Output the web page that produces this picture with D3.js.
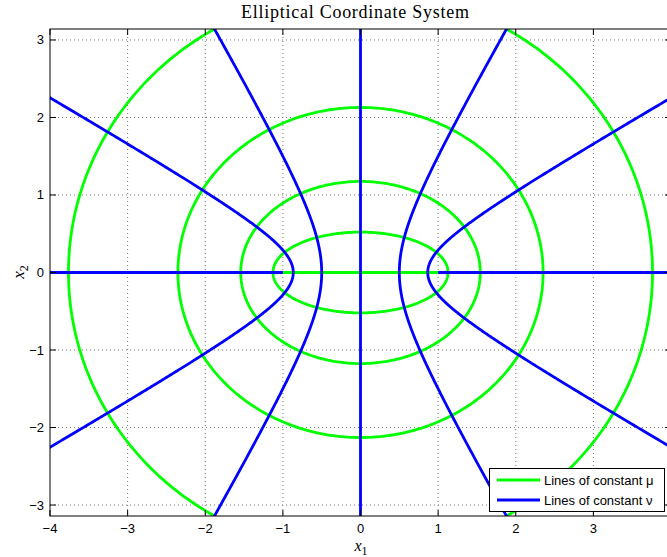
<!DOCTYPE html>
<html><head><meta charset="utf-8">
<script src="https://cdn.jsdelivr.net/npm/d3@7/dist/d3.min.js"></script>
<style>body{margin:0;background:#fff}svg{display:block}</style>
</head><body>
<script>
// Data: parameter values of the coordinate lines
const focalA = 1;
const muValues = [0, 0.5, 1, 1.5, 2];                       // lines of constant mu (ellipses)
const nuValues = [0, 0.5236, 1.0472, 1.5708, 2.0944, 2.618,
                  3.1416, 3.6652, 4.1888, 4.7124, 5.236, 5.7596]; // lines of constant nu (hyperbolas)
const xTicks = [-4, -3, -2, -1, 0, 1, 2, 3];
const yTicks = [-3, -2, -1, 0, 1, 2, 3];
const xDomain = [-4, 4];
const yDomain = [-3.1416, 3.1416];
const legendLabels = ["Lines of constant \u03bc", "Lines of constant \u03bd"];

const W = 667, H = 557;
const L = 50, R = 671, T = 29, B = 516;
const svg = d3.select("body").append("svg").attr("width", W).attr("height", H);
const x = d3.scaleLinear().domain(xDomain).range([L, R]);
const y = d3.scaleLinear().domain(yDomain).range([B, T]);

// grid
const g = svg.append("g");
g.selectAll(".gx").data(xTicks.filter(d => d > xDomain[0])).enter().append("line")
  .attr("x1", d => x(d)).attr("x2", d => x(d)).attr("y1", T).attr("y2", B)
  .attr("stroke", "#777").attr("stroke-width", 1).attr("stroke-dasharray", "1,3");
g.selectAll(".gy").data(yTicks).enter().append("line")
  .attr("y1", d => y(d)).attr("y2", d => y(d)).attr("x1", L).attr("x2", R)
  .attr("stroke", "#777").attr("stroke-width", 1).attr("stroke-dasharray", "1,3");

svg.append("clipPath").attr("id", "clip").append("rect")
  .attr("x", L).attr("y", T).attr("width", R - L).attr("height", B - T);
const plot = svg.append("g").attr("clip-path", "url(#clip)");
const line = d3.line().x(d => x(d[0])).y(d => y(d[1]));

// ellipses
muValues.forEach(mu => {
  const pts = d3.range(0, 361).map(i => {
    const nu = i / 360 * 2 * Math.PI;
    return [focalA * Math.cosh(mu) * Math.cos(nu), focalA * Math.sinh(mu) * Math.sin(nu)];
  });
  plot.append("path").attr("d", line(pts)).attr("fill", "none")
    .attr("stroke", "#00ff00").attr("stroke-width", 2.8);
});
// hyperbolas
nuValues.forEach(nu => {
  const pts = d3.range(0, 401).map(i => {
    const mu = i / 400 * 3;
    return [focalA * Math.cosh(mu) * Math.cos(nu), focalA * Math.sinh(mu) * Math.sin(nu)];
  });
  plot.append("path").attr("d", line(pts)).attr("fill", "none")
    .attr("stroke", "#0000ff").attr("stroke-width", 2.8);
});

// axes box
svg.append("rect").attr("x", L).attr("y", T).attr("width", R - L).attr("height", B - T)
  .attr("fill", "none").attr("stroke", "#000").attr("stroke-width", 1);

const tl = 6;
xTicks.forEach(d => {
  svg.append("line").attr("x1", x(d)).attr("x2", x(d)).attr("y1", B).attr("y2", B - tl).attr("stroke", "#000");
  svg.append("line").attr("x1", x(d)).attr("x2", x(d)).attr("y1", T).attr("y2", T + tl).attr("stroke", "#000");
  svg.append("text").attr("x", x(d)).attr("y", B + 17).attr("text-anchor", "middle")
    .attr("font-family", "Liberation Sans, Arial, sans-serif").attr("font-size", 13)
    .text(d < 0 ? "\u2212" + Math.abs(d) : d);
});
yTicks.forEach(d => {
  svg.append("line").attr("x1", L).attr("x2", L + tl).attr("y1", y(d)).attr("y2", y(d)).attr("stroke", "#000");
  svg.append("line").attr("x1", R).attr("x2", R - tl).attr("y1", y(d)).attr("y2", y(d)).attr("stroke", "#000");
  svg.append("text").attr("x", L - 6).attr("y", y(d) + 4.5).attr("text-anchor", "end")
    .attr("font-family", "Liberation Sans, Arial, sans-serif").attr("font-size", 13)
    .text(d < 0 ? "\u2212" + Math.abs(d) : d);
});

// title and labels
svg.append("text").attr("x", 355).attr("y", 18).attr("text-anchor", "middle")
  .attr("font-family", "Liberation Serif, Times New Roman, serif").attr("font-size", 18)
  .attr("textLength", 228).attr("lengthAdjust", "spacing")
  .text("Elliptical Coordinate System");
const xl = svg.append("text").attr("x", 361).attr("y", 551).attr("text-anchor", "middle")
  .attr("font-family", "Liberation Serif, serif").attr("font-size", 16).attr("font-style", "italic");
xl.append("tspan").text("x");
xl.append("tspan").attr("font-size", 12).attr("dy", 4).attr("font-style", "normal").text("1");
const yl = svg.append("text").attr("transform", "translate(24,272) rotate(-90)").attr("text-anchor", "middle")
  .attr("font-family", "Liberation Serif, serif").attr("font-size", 17).attr("font-style", "italic");
yl.append("tspan").text("x");
yl.append("tspan").attr("font-size", 12).attr("dy", 4).attr("font-style", "normal").text("2");

// legend
const lg = svg.append("g");
lg.append("rect").attr("x", 489.5).attr("y", 468.5).attr("width", 175).attr("height", 43)
  .attr("fill", "#fff").attr("stroke", "#000");
const legColors = ["#00ff00", "#0000ff"];
legendLabels.forEach((t, i) => {
  const yy = 480 + i * 20;
  lg.append("line").attr("x1", 497).attr("x2", 540).attr("y1", yy).attr("y2", yy)
    .attr("stroke", legColors[i]).attr("stroke-width", 2.8);
  lg.append("text").attr("x", 544).attr("y", yy + 5).attr("font-family", "Liberation Sans, Arial, sans-serif")
    .attr("font-size", 13).text(t);
});
</script>
</body></html>
